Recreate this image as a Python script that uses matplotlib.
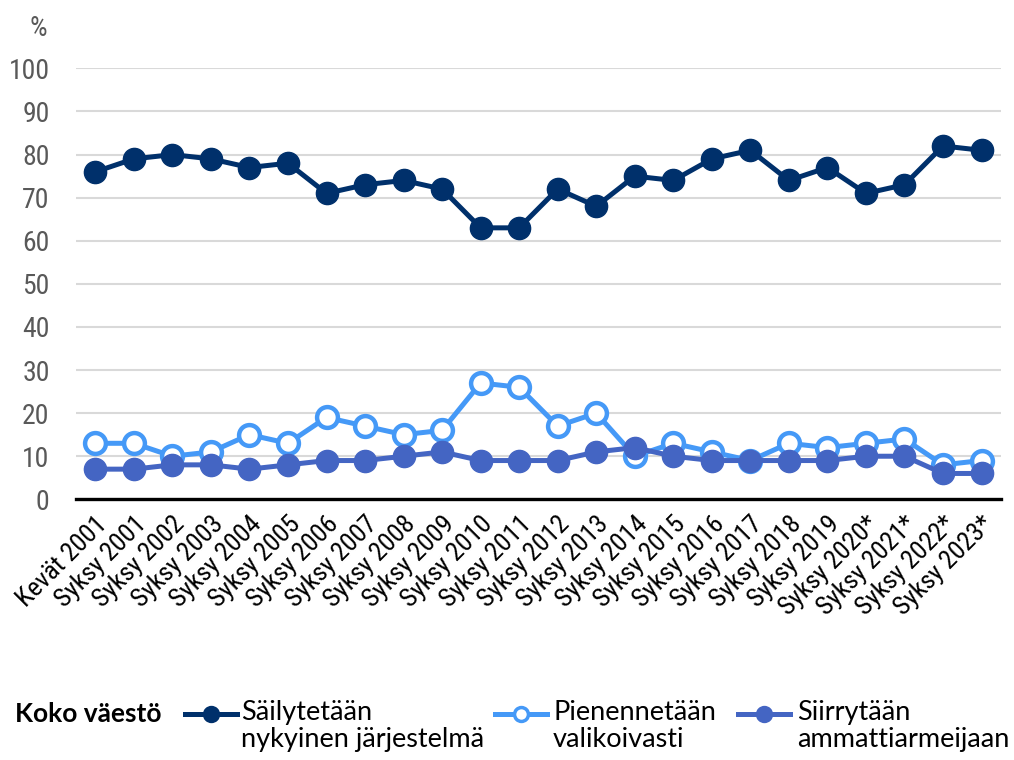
import matplotlib
matplotlib.use("Agg")
import matplotlib.pyplot as plt
from matplotlib.lines import Line2D

plt.rcParams['font.family'] = ['Roboto Condensed', 'Lato', 'DejaVu Sans']
selitefontti = ['Lato', 'DejaVu Sans']

# kyselyajankohdat
kaudet = ['Kevät 2001'] + ['Syksy %d' % v for v in range(2001, 2020)] + \
         ['Syksy 2020*', 'Syksy 2021*', 'Syksy 2022*', 'Syksy 2023*']

# osuudet (%)
sailytetaan = [76, 79, 80, 79, 77, 78, 71, 73, 74, 72, 63, 63, 72, 68, 75, 74,
               79, 81, 74, 77, 71, 73, 82, 81]
pienennetaan = [13, 13, 10, 11, 15, 13, 19, 17, 15, 16, 27, 26, 17, 20, 10, 13,
                11, 9, 13, 12, 13, 14, 8, 9]
siirrytaan = [7, 7, 8, 8, 7, 8, 9, 9, 10, 11, 9, 9, 9, 11, 12, 10,
              9, 9, 9, 9, 10, 10, 6, 6]

sarjat = ['Säilytetään\nnykyinen järjestelmä', 'Pienennetään\nvalikoivasti',
          'Siirrytään\nammattiarmeijaan']
vari_tumma = '#00306B'
vari_vaalea = '#4599F7'
vari_keski = '#4465C3'

fig = plt.figure(figsize=(10.14, 7.6), dpi=100)
ax = fig.add_axes([0.075, 0.343, 0.912, 0.567])

x = list(range(len(kaudet)))

# viivat ja merkit
ax.plot(x, sailytetaan, color=vari_tumma, lw=3.6, marker='o', ms=16,
        markerfacecolor=vari_tumma, markeredgecolor=vari_tumma, zorder=3)
ax.plot(x, pienennetaan, color=vari_vaalea, lw=3.6, marker='o', ms=15,
        markerfacecolor='white', markeredgecolor=vari_vaalea, markeredgewidth=3.2, zorder=4)
ax.plot(x, siirrytaan, color=vari_keski, lw=3.6, marker='o', ms=16,
        markerfacecolor=vari_keski, markeredgecolor=vari_keski, zorder=5)

# akselit
ax.set_xlim(-0.5, len(kaudet) - 0.5)
ax.set_ylim(0, 100)
ax.set_yticks(range(0, 101, 10))
ax.yaxis.grid(True, color='#d9d9d9', lw=1.5)
ax.set_axisbelow(True)
for s in ['left', 'right', 'top']:
    ax.spines[s].set_visible(False)
ax.spines['bottom'].set_color('black')
ax.spines['bottom'].set_linewidth(2.4)
ax.spines['bottom'].set_zorder(6)

ax.tick_params(axis='y', length=0, pad=19, labelsize=20, labelcolor='#595959')
ax.tick_params(axis='x', length=0, pad=9, labelsize=19)
ax.set_xticks(x)
ax.set_xticklabels(kaudet, rotation=45, ha='right', va='top',
                   rotation_mode='anchor')

fig.text(0.038, 0.963, '%', fontsize=20, color='#595959', ha='center', va='center')

# selite
fig.text(0.015, 0.060, 'Koko väestö', fontsize=19, fontweight='bold',
         family=selitefontti, ha='left', va='center')
selite = [
    (sarjat[0], vari_tumma, vari_tumma, 185, 241),
    (sarjat[1], vari_vaalea, 'white', 495, 553),
    (sarjat[2], vari_keski, vari_keski, 738, 797),
]
for teksti, vari, tayte, x0, xt in selite:
    yk = 1 - 714 / 760
    fig.add_artist(Line2D([x0 / 1014, (x0 + 52) / 1014], [yk, yk], color=vari, lw=3.6))
    fig.add_artist(Line2D([(x0 + 26) / 1014], [yk], color=vari, marker='o', ms=10,
                          markerfacecolor=tayte, markeredgecolor=vari,
                          markeredgewidth=2.5))
    fig.text(xt / 1014, 1 - 700 / 760, teksti, fontsize=19.5, family=selitefontti,
             ha='left', va='top', linespacing=1.12)

fig.savefig('out.png', dpi=100)
